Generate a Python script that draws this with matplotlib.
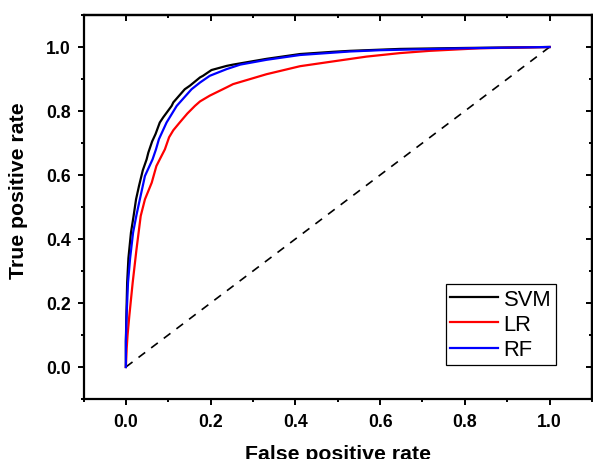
import matplotlib
matplotlib.use("Agg")
import matplotlib.pyplot as plt
import numpy as np

plt.rcParams['font.family'] = ['Liberation Sans', 'DejaVu Sans']

# ---- data ----
svm_fpr = [0.0, 0.0, 0.001, 0.003, 0.006, 0.012, 0.018, 0.024, 0.031, 0.040, 0.049,
           0.053, 0.062, 0.070, 0.080, 0.088, 0.108, 0.112, 0.139, 0.151, 0.175,
           0.182, 0.202, 0.238, 0.253, 0.332, 0.411, 0.489, 0.529, 0.647, 0.800, 1.0]
svm_tpr = [0.0, 0.08, 0.15, 0.263, 0.34, 0.42, 0.47, 0.524, 0.566, 0.615, 0.649,
           0.670, 0.705, 0.728, 0.764, 0.780, 0.816, 0.827, 0.868, 0.879, 0.905,
           0.910, 0.928, 0.941, 0.945, 0.963, 0.978, 0.985, 0.988, 0.994, 0.997, 1.0]

lr_fpr = [0.0, 0.002, 0.004, 0.008, 0.016, 0.025, 0.035, 0.045, 0.061, 0.072, 0.080,
          0.092, 0.102, 0.112, 0.127, 0.145, 0.163, 0.175, 0.198, 0.238, 0.253, 0.332,
          0.411, 0.489, 0.568, 0.647, 0.717, 0.835, 1.0]
lr_tpr = [0.0, 0.06, 0.10, 0.158, 0.263, 0.367, 0.472, 0.524, 0.576, 0.628, 0.649,
          0.680, 0.718, 0.740, 0.764, 0.792, 0.816, 0.830, 0.848, 0.874, 0.884, 0.915,
          0.940, 0.955, 0.970, 0.981, 0.988, 0.996, 1.0]

rf_fpr = [0.0, 0.0, 0.002, 0.005, 0.010, 0.017, 0.025, 0.033, 0.045, 0.063, 0.071,
          0.078, 0.096, 0.120, 0.155, 0.175, 0.198, 0.238, 0.270, 0.332, 0.411,
          0.529, 0.600, 0.800, 1.0]
rf_tpr = [0.0, 0.08, 0.17, 0.263, 0.34, 0.42, 0.475, 0.524, 0.597, 0.649, 0.680,
          0.712, 0.764, 0.816, 0.868, 0.889, 0.910, 0.931, 0.945, 0.960, 0.975,
          0.986, 0.990, 0.996, 1.0]

diag = [0.0, 1.0]
labels = ["SVM", "LR", "RF"]
colors = ["#000000", "#ff0000", "#0000ff"]
major_ticks = [0.0, 0.2, 0.4, 0.6, 0.8, 1.0]
minor_ticks = [-0.1, 0.1, 0.3, 0.5, 0.7, 0.9, 1.1]
tick_labels = ["0.0", "0.2", "0.4", "0.6", "0.8", "1.0"]

# ---- figure ----
fig = plt.figure(figsize=(5.93, 4.60), dpi=100)
ax = fig.add_axes([83.5 / 593, 60 / 460, 508.5 / 593, 384 / 460])

ax.plot(diag, diag, color="black", lw=1.2, dashes=(5, 4.5), zorder=1)
for fx, ty, lab, c in zip([svm_fpr, lr_fpr, rf_fpr], [svm_tpr, lr_tpr, rf_tpr], labels, colors):
    ax.plot(fx, ty, color=c, lw=1.6, label=lab, zorder=2)

ax.set_xlim(-0.1, 1.1)
ax.set_ylim(-0.1, 1.1)
ax.set_xticks(major_ticks)
ax.set_xticklabels(tick_labels)
ax.set_yticks(major_ticks)
ax.set_yticklabels(tick_labels)
ax.set_xticks(minor_ticks, minor=True)
ax.set_yticks(minor_ticks, minor=True)

for sp in ax.spines.values():
    sp.set_linewidth(1.6)

ax.tick_params(which='major', direction='out', length=4.5, width=1.4,
               labelsize=12.7, pad=4.5)
ax.tick_params(which='minor', direction='out', length=2.4, width=1.4)
ax.tick_params(axis='x', which='major', pad=5.5)
for lbl in ax.get_xticklabels() + ax.get_yticklabels():
    lbl.set_fontweight('bold')

# inward ticks on top and right
secx = ax.secondary_xaxis('top')
secx.set_xticks(major_ticks)
secx.set_xticks(minor_ticks, minor=True)
secx.tick_params(which='major', direction='in', length=4.5, width=1.4, labeltop=False)
secx.tick_params(which='minor', direction='in', length=2.4, width=1.4)
secx.spines['top'].set_linewidth(1.6)

secy = ax.secondary_yaxis('right')
secy.set_yticks(major_ticks)
secy.set_yticks(minor_ticks, minor=True)
secy.tick_params(which='major', direction='in', length=4.5, width=1.4, labelright=False)
secy.tick_params(which='minor', direction='in', length=2.4, width=1.4)
secy.spines['right'].set_linewidth(1.6)

fig.text(337.7 / 593, 0.0, "False positive rate", ha='center', va='baseline',
         fontsize=15.3, fontweight='bold')
fig.text(18.5 / 593, 1 - 191 / 460, "True positive rate", ha='center', va='center',
         rotation=90, fontsize=15.3, fontweight='bold')

leg = ax.legend(loc='lower left', bbox_to_anchor=(0.712, 0.089), fontsize=15.8,
                frameon=True, fancybox=False, framealpha=1, edgecolor='black',
                borderpad=0.2, labelspacing=0.2, handlelength=2.2,
                handletextpad=0.25, borderaxespad=0.0)
leg.get_frame().set_linewidth(0.9)

fig.savefig("out.png", dpi=100)
